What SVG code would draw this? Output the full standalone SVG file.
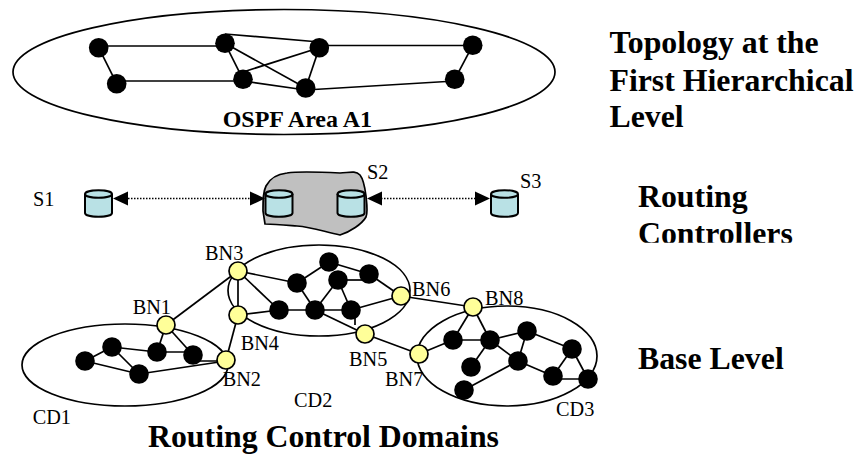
<svg xmlns="http://www.w3.org/2000/svg" width="858" height="455" viewBox="0 0 858 455">
<style>
.e{fill:none;stroke:#000;stroke-width:1.7}
.c line,.c path{stroke:#000;stroke-width:1.7;fill:none}
.b{fill:#000}
.y{fill:#ffff99;stroke:#000;stroke-width:1.7}
.cy{fill:#b9e1e5;stroke:#000;stroke-width:2}
text{font-family:"Liberation Serif","Times New Roman",serif;fill:#000}
.l{font-size:20.300px}
.h{font-size:31.800px;font-weight:bold}
</style>
<defs>
<marker id="ar" markerUnits="userSpaceOnUse" markerWidth="15" markerHeight="15" refX="15" refY="7.5" orient="auto"><path d="M0 0.500L15 7.500L0 14.500Z"/></marker>
<marker id="al" markerUnits="userSpaceOnUse" markerWidth="15" markerHeight="15" refX="0" refY="7.5" orient="auto"><path d="M15 0.500L0 7.500L15 14.500Z"/></marker>
<circle id="n" r="9.8" class="b"/>
<circle id="ny" r="9" class="y"/>
<g id="cyl"><path class="cy" d="M0 4C0 -1 27 -1 27 4V23C27 28 0 28 0 23Z"/><path class="cy" style="fill:none" d="M0 4C0 9 27 9 27 4"/></g>
<clipPath id="clip"><rect x="630" y="215" width="180" height="27.700"/></clipPath>
</defs>

<g id="area-a1"><ellipse class="e" cx="284" cy="72" rx="271" ry="62.500"/></g>
<g id="domain-cd1"><ellipse class="e" cx="125" cy="365" rx="103" ry="41"/></g>
<g id="domain-cd2"><ellipse class="e" cx="319" cy="290.500" rx="91" ry="45.500"/></g>
<g id="domain-cd3"><ellipse class="e" cx="507" cy="356" rx="90" ry="50"/></g>
<g id="cloud"><path d="M263 211C263 200 263 192 266 186C270 178 278 174 287 173C300 171 320 172 340 173C348 173 355 170 360 175C364 180 365 188 366 196C367 205 368 212 366 217C362 224 350 232 340 235C325 232 312 227 297 226C285 225 275 224 265 224Z" fill="#c0c0c0" stroke="#000" stroke-width="1.700"/></g>

<g id="connectors" class="c">
<line x1="98.700" y1="46" x2="225" y2="46"/>
<line x1="98.700" y1="47.700" x2="116.700" y2="83.700"/>
<line x1="116.700" y1="81" x2="243" y2="81"/>
<line x1="225" y1="34" x2="319.300" y2="42"/>
<line x1="225" y1="43.300" x2="243" y2="79.300"/>
<line x1="225" y1="43.300" x2="305.700" y2="88"/>
<line x1="243" y1="72" x2="319.300" y2="47.700"/>
<line x1="319.300" y1="47.700" x2="305.700" y2="88"/>
<line x1="243" y1="81" x2="305.700" y2="90"/>
<line x1="319.300" y1="45.500" x2="472.700" y2="45.500"/>
<line x1="472.700" y1="45.300" x2="454.700" y2="79.300"/>
<line x1="305.700" y1="90" x2="454.700" y2="81"/>

<line x1="128" y1="198.500" x2="250" y2="198.500" style="stroke-dasharray:1.5 1.5"/>
<line x1="113" y1="198.500" x2="265" y2="198.500" style="stroke:none;marker-start:url(#al);marker-end:url(#ar)"/>
<line x1="381" y1="198.500" x2="475" y2="198.500" style="stroke-dasharray:1.5 1.5"/>
<line x1="367" y1="198.500" x2="490" y2="198.500" style="stroke:none;marker-start:url(#al);marker-end:url(#ar)"/>

<line x1="166" y1="325" x2="238" y2="271"/>
<line x1="238" y1="271" x2="238" y2="315"/>
<line x1="238" y1="315" x2="226" y2="360"/>
<line x1="238" y1="271" x2="297" y2="283"/>
<line x1="238" y1="271" x2="279" y2="310"/>
<line x1="238" y1="315" x2="279" y2="310"/>
<line x1="279" y1="310" x2="351" y2="310"/>
<line x1="297" y1="283" x2="329" y2="262"/>
<line x1="297" y1="283" x2="315" y2="310"/>
<line x1="329" y1="262" x2="369" y2="274"/>
<line x1="338" y1="280" x2="369" y2="280"/>
<line x1="338" y1="280" x2="315" y2="310"/>
<line x1="338" y1="280" x2="351" y2="310"/>
<line x1="369" y1="274" x2="401" y2="296"/>
<line x1="351" y1="310" x2="401" y2="296"/>
<line x1="355" y1="315" x2="355" y2="325"/>
<line x1="315" y1="310" x2="365" y2="334"/>
<line x1="365" y1="334" x2="419" y2="354"/>
<line x1="401" y1="296" x2="473" y2="307"/>

<line x1="85" y1="361" x2="112" y2="347"/>
<line x1="85" y1="361" x2="139" y2="374"/>
<line x1="112" y1="347" x2="139" y2="374"/>
<line x1="112" y1="347" x2="157" y2="352"/>
<line x1="157" y1="352" x2="193" y2="352"/>
<line x1="157" y1="352" x2="166" y2="325"/>
<line x1="193" y1="355" x2="166" y2="325"/>
<line x1="193" y1="361" x2="226" y2="361"/>
<line x1="139" y1="374" x2="226" y2="361"/>

<line x1="419" y1="354" x2="453" y2="340"/>
<line x1="453" y1="340" x2="490" y2="340"/>
<line x1="453" y1="340" x2="473" y2="307"/>
<line x1="490" y1="340" x2="473" y2="307"/>
<line x1="490" y1="340" x2="527" y2="331"/>
<line x1="490" y1="340" x2="471" y2="367"/>
<line x1="490" y1="340" x2="518" y2="361"/>
<line x1="527" y1="331" x2="518" y2="361"/>
<line x1="527" y1="331" x2="572" y2="349"/>
<line x1="518" y1="361" x2="553" y2="376"/>
<line x1="518" y1="361" x2="464" y2="390"/>
<line x1="572" y1="349" x2="553" y2="376"/>
<line x1="572" y1="349" x2="588" y2="379"/>
<line x1="553" y1="379" x2="588" y2="379"/>
</g>

<g id="a1-n1"><use href="#n" x="98.700" y="47.700"/></g>
<g id="a1-n2"><use href="#n" x="116.700" y="83.700"/></g>
<g id="a1-n3"><use href="#n" x="225" y="43.300"/></g>
<g id="a1-n4"><use href="#n" x="243" y="79.300"/></g>
<g id="a1-n5"><use href="#n" x="319.300" y="47.700"/></g>
<g id="a1-n6"><use href="#n" x="305.700" y="88"/></g>
<g id="a1-n7"><use href="#n" x="472.700" y="45.300"/></g>
<g id="a1-n8"><use href="#n" x="454.700" y="79.300"/></g>

<g id="s1"><use href="#cyl" x="85" y="190"/><text class="l" x="33" y="206">S1</text></g>
<g id="s2a"><use href="#cyl" x="265.500" y="190"/></g>
<g id="s2"><use href="#cyl" x="337.500" y="190"/><text class="l" x="367" y="179">S2</text></g>
<g id="s3"><use href="#cyl" x="491" y="190"/><text class="l" x="520" y="188">S3</text></g>

<g id="cd1-nodes"><use href="#n" x="85" y="361"/><use href="#n" x="112" y="347"/><use href="#n" x="157" y="352"/><use href="#n" x="193" y="355"/><use href="#n" x="139" y="374"/></g>
<g id="cd2-nodes"><use href="#n" x="329" y="262"/><use href="#n" x="297" y="283"/><use href="#n" x="338" y="280"/><use href="#n" x="369" y="274"/><use href="#n" x="279" y="310"/><use href="#n" x="315" y="310"/><use href="#n" x="351" y="310"/></g>
<g id="cd3-nodes"><use href="#n" x="453" y="340"/><use href="#n" x="490" y="340"/><use href="#n" x="527" y="331"/><use href="#n" x="518" y="361"/><use href="#n" x="572" y="349"/><use href="#n" x="553" y="376"/><use href="#n" x="588" y="379"/><use href="#n" x="471" y="367"/><use href="#n" x="464" y="390"/></g>

<g id="bn1"><use href="#ny" x="166" y="325"/><text class="l" x="132.700" y="314">BN1</text></g>
<g id="bn2"><use href="#ny" x="226" y="360"/><text class="l" x="222.700" y="386">BN2</text></g>
<g id="bn3"><use href="#ny" x="238" y="271"/><text class="l" x="205" y="260">BN3</text></g>
<g id="bn4"><use href="#ny" x="238" y="315"/><text class="l" x="240.700" y="350">BN4</text></g>
<g id="bn5"><use href="#ny" x="365" y="334"/><text class="l" x="349" y="366">BN5</text></g>
<g id="bn6"><use href="#ny" x="401" y="296"/><text class="l" x="412" y="296">BN6</text></g>
<g id="bn7"><use href="#ny" x="419" y="354"/><text class="l" x="385" y="386">BN7</text></g>
<g id="bn8"><use href="#ny" x="473" y="307"/><text class="l" x="485" y="305">BN8</text></g>

<text x="222.700" y="127.300" font-size="24" font-weight="bold">OSPF Area A1</text>
<text class="l" x="32.700" y="424">CD1</text>
<text class="l" x="294" y="407">CD2</text>
<text class="l" x="556" y="416">CD3</text>
<text class="h" x="609.500" y="53.300">Topology at the</text>
<text class="h" x="609.500" y="90.700">First Hierarchical</text>
<text class="h" x="609.500" y="127">Level</text>
<text class="h" x="638" y="206.700">Routing</text>
<text class="h" x="638" y="244" clip-path="url(#clip)">Controllers</text>
<text class="h" x="638" y="369">Base Level</text>
<text class="h" x="148" y="447">Routing Control Domains</text>
</svg>
